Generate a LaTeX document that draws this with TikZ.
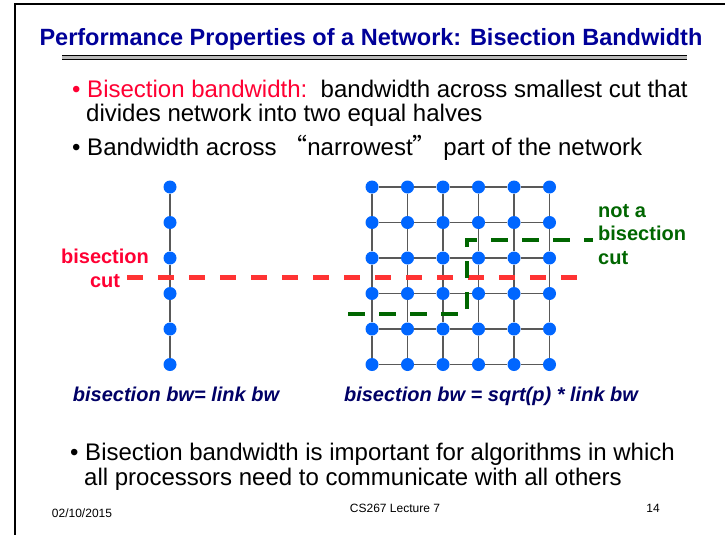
\documentclass[tikz,border=0pt]{standalone}
\usepackage{fontspec}
\setmainfont{Liberation Sans}
\newfontfamily\cjkquote{Noto Sans CJK SC}

\definecolor{titleblue}{RGB}{0,0,153}
\definecolor{capblue}{RGB}{0,0,102}
\definecolor{txtred}{RGB}{255,0,51}
\definecolor{cutred}{RGB}{255,51,51}
\definecolor{cutgreen}{RGB}{0,102,0}
\definecolor{procblue}{RGB}{0,102,255}

\tikzset{
  proc/.style={circle, fill=procblue, inner sep=0pt, minimum size=13pt},
  link/.style={draw=black!65, line width=1.3pt},
  cutline/.style={line width=5pt, dash pattern=on 16pt off 15pt},
  txt/.style={inner sep=0pt, anchor=base west, font=\fontsize{24}{28}\selectfont},
  cutlabel/.style={inner sep=0pt, font=\fontsize{20}{23.5}\selectfont\bfseries},
  caption/.style={inner sep=0pt, anchor=base, text=capblue, font=\fontsize{20}{24}\selectfont\bfseries\itshape},
  foot/.style={inner sep=0pt, anchor=base, font=\fontsize{12}{14}\selectfont}
}

\begin{document}
\begin{tikzpicture}[x=1pt, y=-1pt]

\fill[white] (0,0) rectangle (725,535);
\useasboundingbox (0,0) rectangle (725,535);

% slide frame
\draw[line width=2.5pt] (15,535) -- (15,4) -- (725,4);

% title
\node[inner sep=0pt, anchor=base, text=titleblue, font=\fontsize{23.5}{28}\selectfont\bfseries] (title) at (371,46)
  {Performance Properties of a Network: Bisection Bandwidth};
\fill[gray!55] (62,55) rectangle (687,60);
\draw[line width=0.9pt] (62,55.5) -- (687,55.5);
\draw[line width=0.9pt] (62,59.5) -- (687,59.5);

% bullets
\node[txt] (b1) at (72,97) {\textcolor{txtred}{\textbullet\ Bisection bandwidth:}\ \ bandwidth across smallest cut that};
\node[txt] (b1b) at (86,121) {divides network into two equal halves};
\node[txt] (b2) at (72,155) {\textbullet\ Bandwidth across {\cjkquote “}narrowest{\cjkquote ”} part of the network};

% linear array
\foreach \i in {1,...,6}
  \node[proc] (l\i) at (170,{151.5+35.5*\i}) {};
\foreach \i [evaluate=\i as \k using int(\i+1)] in {1,...,5}
  \draw[link] (l\i) -- (l\k);

% 2D mesh
\foreach \i in {1,...,6}
  \foreach \j in {1,...,6}
    \node[proc] (g\i\j) at ({336.5+35.5*\i},{151.5+35.5*\j}) {};
\foreach \i [evaluate=\i as \k using int(\i+1)] in {1,...,5}
  \foreach \j in {1,...,6} {
    \draw[link] (g\i\j) -- (g\k\j);
    \draw[link] (g\j\i) -- (g\j\k);
  }

% bisection cut
\coordinate (redL) at (127,277);
\coordinate (redR) at (581,277);
\draw[cutline, draw=cutred] (redL) -- (redR);
\node[cutlabel, text=txtred, align=center, anchor=base] (redlab) at (105,287) {bisection\\cut};

% not a bisection cut
\coordinate (grA) at (348,314);
\coordinate (grB) at (467,314);
\coordinate (grC) at (467,240);
\coordinate (grD) at (593,240);
\draw[line width=4.5pt, dash pattern=on 17pt off 14pt, draw=cutgreen] (grA) -- (grB) -- (grC) -- (grD);
\node[cutlabel, text=cutgreen, align=left, anchor=base west] (grlab) at (598,264) {not a\\bisection\\cut};

% captions
\node[caption] (cap1) at (176,401) {bisection bw= link bw};
\node[caption] (cap2) at (491,401) {bisection bw = sqrt(p) * link bw};

% last bullet
\node[txt] (b3) at (70,460) {\textbullet\ Bisection bandwidth is important for algorithms in which};
\node[txt] (b3b) at (84,485) {all processors need to communicate with all others};

% footer
\node[foot] (date) at (82,517) {02/10/2015};
\node[foot] (lect) at (395,512) {CS267 Lecture 7};
\node[foot] (page) at (653,512) {14};

\end{tikzpicture}
\end{document}
